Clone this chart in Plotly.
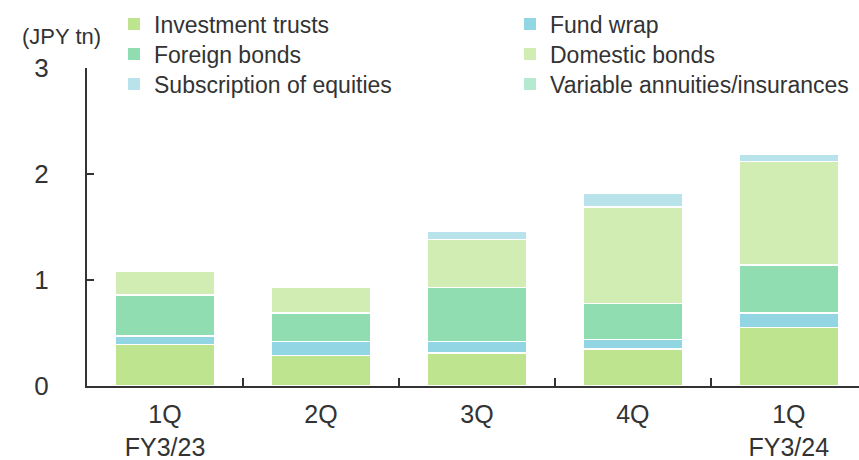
import plotly.graph_objects as go

categories = ["1Q<br>FY3/23", "2Q", "3Q", "4Q", "1Q<br>FY3/24"]
investment_trusts = [0.39, 0.29, 0.31, 0.35, 0.55]
fund_wrap = [0.08, 0.13, 0.11, 0.09, 0.14]
foreign_bonds = [0.39, 0.27, 0.51, 0.34, 0.45]
domestic_bonds = [0.22, 0.24, 0.45, 0.91, 0.98]
subscription_equities = [0.0, 0.0, 0.08, 0.13, 0.07]
variable_annuities = [0.0, 0.0, 0.0, 0.0, 0.0]

series_names = ["Investment trusts", "Fund wrap", "Foreign bonds",
                "Domestic bonds", "Subscription of equities",
                "Variable annuities/insurances"]
series_values = [investment_trusts, fund_wrap, foreign_bonds,
                 domestic_bonds, subscription_equities, variable_annuities]
colors = ["#BFE48F", "#92D6E3", "#8FDDB0", "#D2EDB4", "#B8E3EB", "#B5EAD0"]

W, H = 772, 318
col_left_px = [114, 510]
row_center_px = [24, 54, 84]
def px_x(p):
    return (p - 87) / W
def px_y(p):
    return 1 + (68 - p) / H

fig = go.Figure()
legend_layout = {}
for i, (name, vals, col) in enumerate(zip(series_names, series_values, colors)):
    lid = "legend" if i == 0 else f"legend{i+1}"
    fig.add_trace(go.Bar(
        x=categories, y=vals, name=name, showlegend=False,
        marker=dict(color=col, line=dict(color="white", width=1.5)),
        width=0.64,
    ))
    fig.add_trace(go.Bar(
        x=categories, y=[None] * len(categories), name=name, showlegend=True,
        legend=lid, marker=dict(color=col, line=dict(width=0)),
    ))
    r, c = divmod(i, 2)
    legend_layout[lid] = dict(
        x=px_x(col_left_px[c]), xanchor="left",
        y=px_y(row_center_px[r]), yanchor="middle",
        font=dict(size=23, color="#333333"),
        bgcolor="rgba(0,0,0,0)", borderwidth=0, itemwidth=30,
    )

font = "Liberation Sans, Arial, sans-serif"
fig.update_layout(
    width=859, height=460,
    barmode="stack",
    paper_bgcolor="white", plot_bgcolor="white",
    margin=dict(l=87, r=0, t=68, b=74),
    font=dict(family=font, color="#333333", size=20),
    showlegend=True,
    xaxis=dict(
        range=[-0.5, 4.45], automargin=False,
        showline=True, linecolor="#333333", linewidth=2,
        ticks="inside", ticklen=8, tickwidth=2, tickcolor="#333333",
        tickson="boundaries",
        tickfont=dict(size=25, color="#333333"),
        ticklabelstandoff=5,
        showgrid=False, zeroline=False,
    ),
    yaxis=dict(
        range=[0, 3], tickvals=[0, 1, 2, 3], automargin=False,
        showline=True, linecolor="#333333", linewidth=2,
        ticks="inside", ticklen=7, tickwidth=2, tickcolor="#333333",
        tickfont=dict(size=26, color="#333333"),
        ticklabelstandoff=31,
        showgrid=False, zeroline=False,
    ),
    annotations=[dict(
        text="(JPY tn)", xref="paper", yref="paper", x=px_x(61), y=px_y(37),
        xanchor="center", yanchor="middle", showarrow=False,
        font=dict(size=22, color="#333333"),
    )],
    **legend_layout,
)

fig.write_html("out.html", config={"displayModeBar": False},
               post_script="document.body.style.margin='0';document.body.style.overflow='hidden';")
